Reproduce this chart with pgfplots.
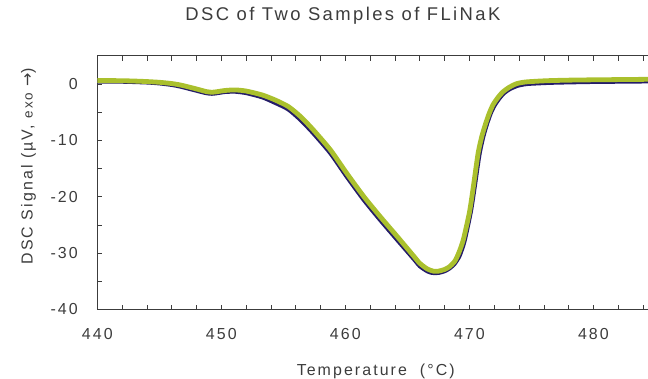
\documentclass[border=0pt]{standalone}
\usepackage{fontspec}
\setmainfont{Liberation Sans}[LetterSpace=13]
\newfontfamily\arrowfont{DejaVu Sans}
\usepackage{pgfplots}
\pgfplotsset{compat=1.18}
\definecolor{navyc}{RGB}{36,28,105}
\definecolor{greenc}{RGB}{170,192,45}
\definecolor{txt}{RGB}{60,60,60}
\begin{document}
\begin{tikzpicture}
\useasboundingbox (-97.3bp,-69.5bp) rectangle (550.7bp,309.5bp);
\begin{axis}[
  at={(0,0)}, anchor=south west,
  scale only axis, width=550.7bp, height=253.7bp,
  xmin=440, xmax=484.4, ymin=-40, ymax=5,
  separate axis lines,
  axis x line*=box, axis y line*=left,
  axis line style={txt, line width=0.8bp},
  xtick={440,450,...,480}, minor xtick={442,444,...,484},
  ytick={-40,-30,...,0}, minor ytick={-35,-25,...,-5},
  tick align=inside,
  major tick length=5bp, minor tick length=5bp,
  every tick/.style={txt, line width=0.6bp},
  /pgf/number format/assume math mode=true,
  ticklabel style={font=\fontsize{16}{19}\selectfont, text=txt},
  xticklabel style={yshift=-15.5bp},
  yticklabel style={xshift=-16bp},
  clip=false,
]
\addplot[navyc, line width=4.2bp, smooth, tension=0.4] coordinates {
(440.0,0.45) (442.0,0.42) (444.0,0.28) (445.0,0.12) (446.0,-0.15) (446.7,-0.45)
(447.5,-0.9) (448.3,-1.35) (448.8,-1.62) (449.25,-1.72) (449.7,-1.6) (450.3,-1.4)
(451.1,-1.35) (452.0,-1.6) (453.3,-2.35) (454.3,-3.3) (455.4,-4.5) (456.4,-6.4)
(457.4,-8.7) (458.8,-12.3) (460.1,-16.4) (461.5,-20.6) (462.8,-24.1) (464.2,-27.7)
(465.5,-31.0) (466.0,-32.3) (466.6,-33.2) (467.0,-33.5) (467.5,-33.5) (468.0,-33.2)
(468.4,-32.7) (468.8,-31.9) (469.2,-30.5) (469.6,-27.9) (470.1,-22.8) (470.4,-18.6)
(470.8,-12.6) (471.1,-9.5) (471.4,-7.2) (471.7,-5.3) (472.0,-3.9) (472.4,-2.6)
(472.8,-1.6) (473.3,-0.85) (473.9,-0.3) (474.6,0.0) (475.5,0.12) (476.5,0.22)
(478.0,0.3) (480.0,0.38) (482.0,0.42) (484.4,0.47)
};
\addplot[greenc, line width=4.8bp, smooth, tension=0.4] coordinates {
(440.0,0.60) (441.0,0.60) (442.0,0.58) (443.0,0.52) (444.0,0.43) (445.0,0.30)
(446.0,0.08) (446.7,-0.18) (447.5,-0.60) (448.3,-1.06) (448.8,-1.35) (449.25,-1.47)
(449.7,-1.35) (450.3,-1.15) (451.1,-1.05) (452.0,-1.25) (453.3,-1.95) (454.3,-2.8)
(455.4,-4.0) (456.4,-5.8) (457.4,-8.1) (458.8,-11.7) (460.1,-15.8) (461.5,-20.0)
(462.8,-23.5) (464.2,-27.1) (465.5,-30.5) (466.0,-31.8) (466.6,-32.8) (467.1,-33.2)
(467.5,-33.2) (468.0,-32.9) (468.4,-32.4) (468.8,-31.5) (469.1,-30.2) (469.5,-27.7)
(470.0,-22.8) (470.3,-18.5) (470.7,-12.3) (471.0,-9.3) (471.3,-7.1) (471.6,-5.2)
(471.9,-3.7) (472.3,-2.4) (472.7,-1.4) (473.2,-0.6) (473.8,0.05) (474.5,0.35)
(475.5,0.5) (476.5,0.6) (478.0,0.68) (480.0,0.74) (482.0,0.78) (484.4,0.83)
};
\node[anchor=base, text=txt, font=\fontsize{18.5}{21}\selectfont, inner sep=0pt]
  at (rel axis cs:0.446,1.1383) {DSC of Two Samples of FLiNaK};
\node[anchor=base, text=txt, font=\fontsize{16}{19}\selectfont, inner sep=0pt]
  at (rel axis cs:0.5056,-0.2582) {Temperature\ \ (°C)};
\node[anchor=center, rotate=90, text=txt, font=\fontsize{16}{19}\selectfont, inner sep=0pt]
  at (rel axis cs:-0.1249,0.5656) {DSC Signal (µV, {\fontsize{13.5}{15}\selectfont exo} {\arrowfont →})};
\end{axis}
\end{tikzpicture}
\end{document}
